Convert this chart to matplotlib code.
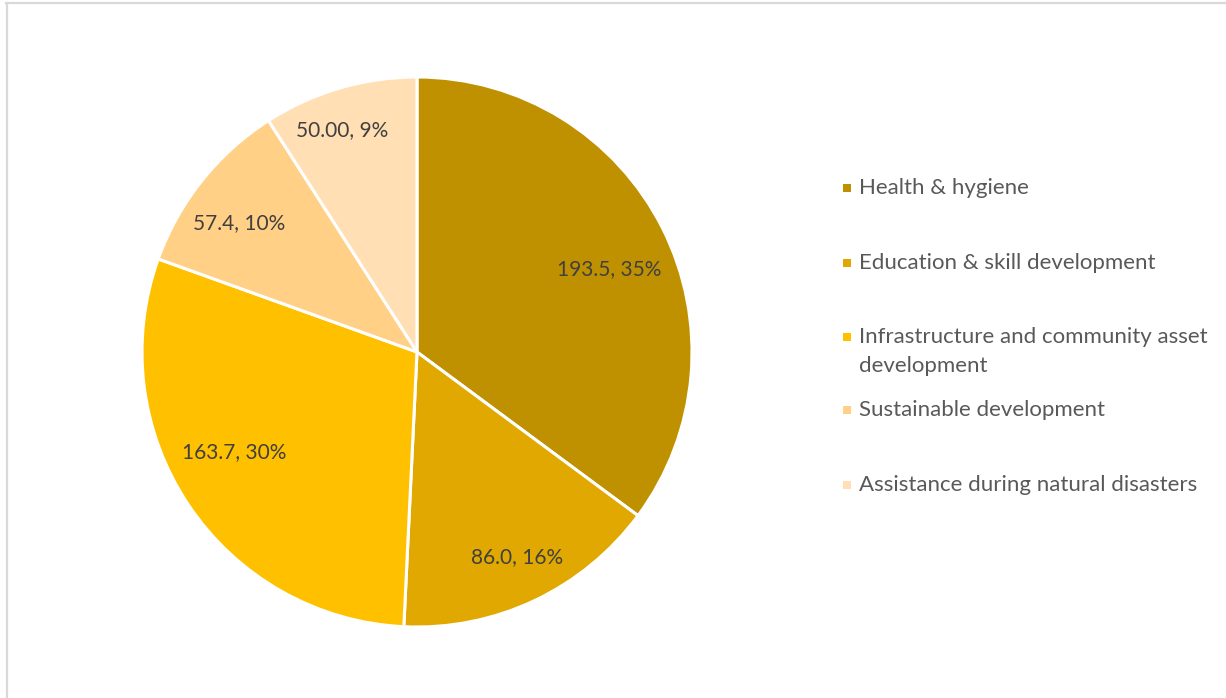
import numpy as np
import matplotlib.pyplot as plt
from matplotlib.lines import Line2D
from matplotlib.patches import Rectangle

# data
categories = ['Health & hygiene', 'Education & skill development',
              'Infrastructure and community asset\ndevelopment',
              'Sustainable development', 'Assistance during natural disasters']
values = [193.5, 86.0, 163.7, 57.4, 50.00]
value_labels = ['193.5', '86.0', '163.7', '57.4', '50.00']
colors = ['#BF9000', '#E0A800', '#FFC000', '#FFD085', '#FFDFB3']

W, H = 1226, 698
fig = plt.figure(figsize=(W / 100, H / 100), dpi=100, facecolor='white')
plt.rcParams['font.family'] = ['Lato', 'DejaVu Sans']

# chart frame (only top and left edges visible)
fig.add_artist(Line2D([6 / W, 1], [1 - 3 / H, 1 - 3 / H], color='#D9D9D9', lw=1.6))
fig.add_artist(Line2D([7 / W, 7 / W], [0, 1 - 3 / H], color='#D9D9D9', lw=1.6))

# pie
cx, cy, r = 417, 698 - 352, 275
ax = fig.add_axes([(cx - r) / W, (cy - r) / H, 2 * r / W, 2 * r / H])
total = sum(values)

wedges, _ = ax.pie(values, colors=colors, startangle=90, counterclock=False,
                   wedgeprops=dict(edgecolor='white', linewidth=2.2))

# data labels ("value, pct") inside each wedge, nudged like Excel's best fit
label_dist = [0.76, 0.83, 0.76, 0.80, 0.85]
label_turn = [-3.5, 0.6, -5.0, 2.6, 2.3]   # degrees away from the wedge middle
for w, v, vl, d, t in zip(wedges, values, value_labels, label_dist, label_turn):
    mid = np.deg2rad((w.theta1 + w.theta2) / 2 + t)
    ax.text(d * np.cos(mid), d * np.sin(mid), f'{vl}, {100 * v / total:.0f}%',
            ha='center', va='center', fontsize=15, color='#404040')
ax.set_xlim(-1, 1)
ax.set_ylim(-1, 1)
ax.set_aspect('equal')
ax.axis('off')

# legend drawn by hand to follow the original spacing
legend_rows = [188, 263, 337, 410, 485]
for cat, col, y in zip(categories, colors, legend_rows):
    fig.add_artist(Rectangle((843 / W, 1 - (y + 4) / H), 8 / W, 8 / H,
                             transform=fig.transFigure, facecolor=col, edgecolor='none'))
    for i, line in enumerate(cat.split('\n')):
        fig.text(859 / W, 1 - (y + 29 * i) / H, line, fontsize=16, color='#595959',
                 va='center', ha='left')

fig.savefig('out.png', dpi=100, facecolor='white')
